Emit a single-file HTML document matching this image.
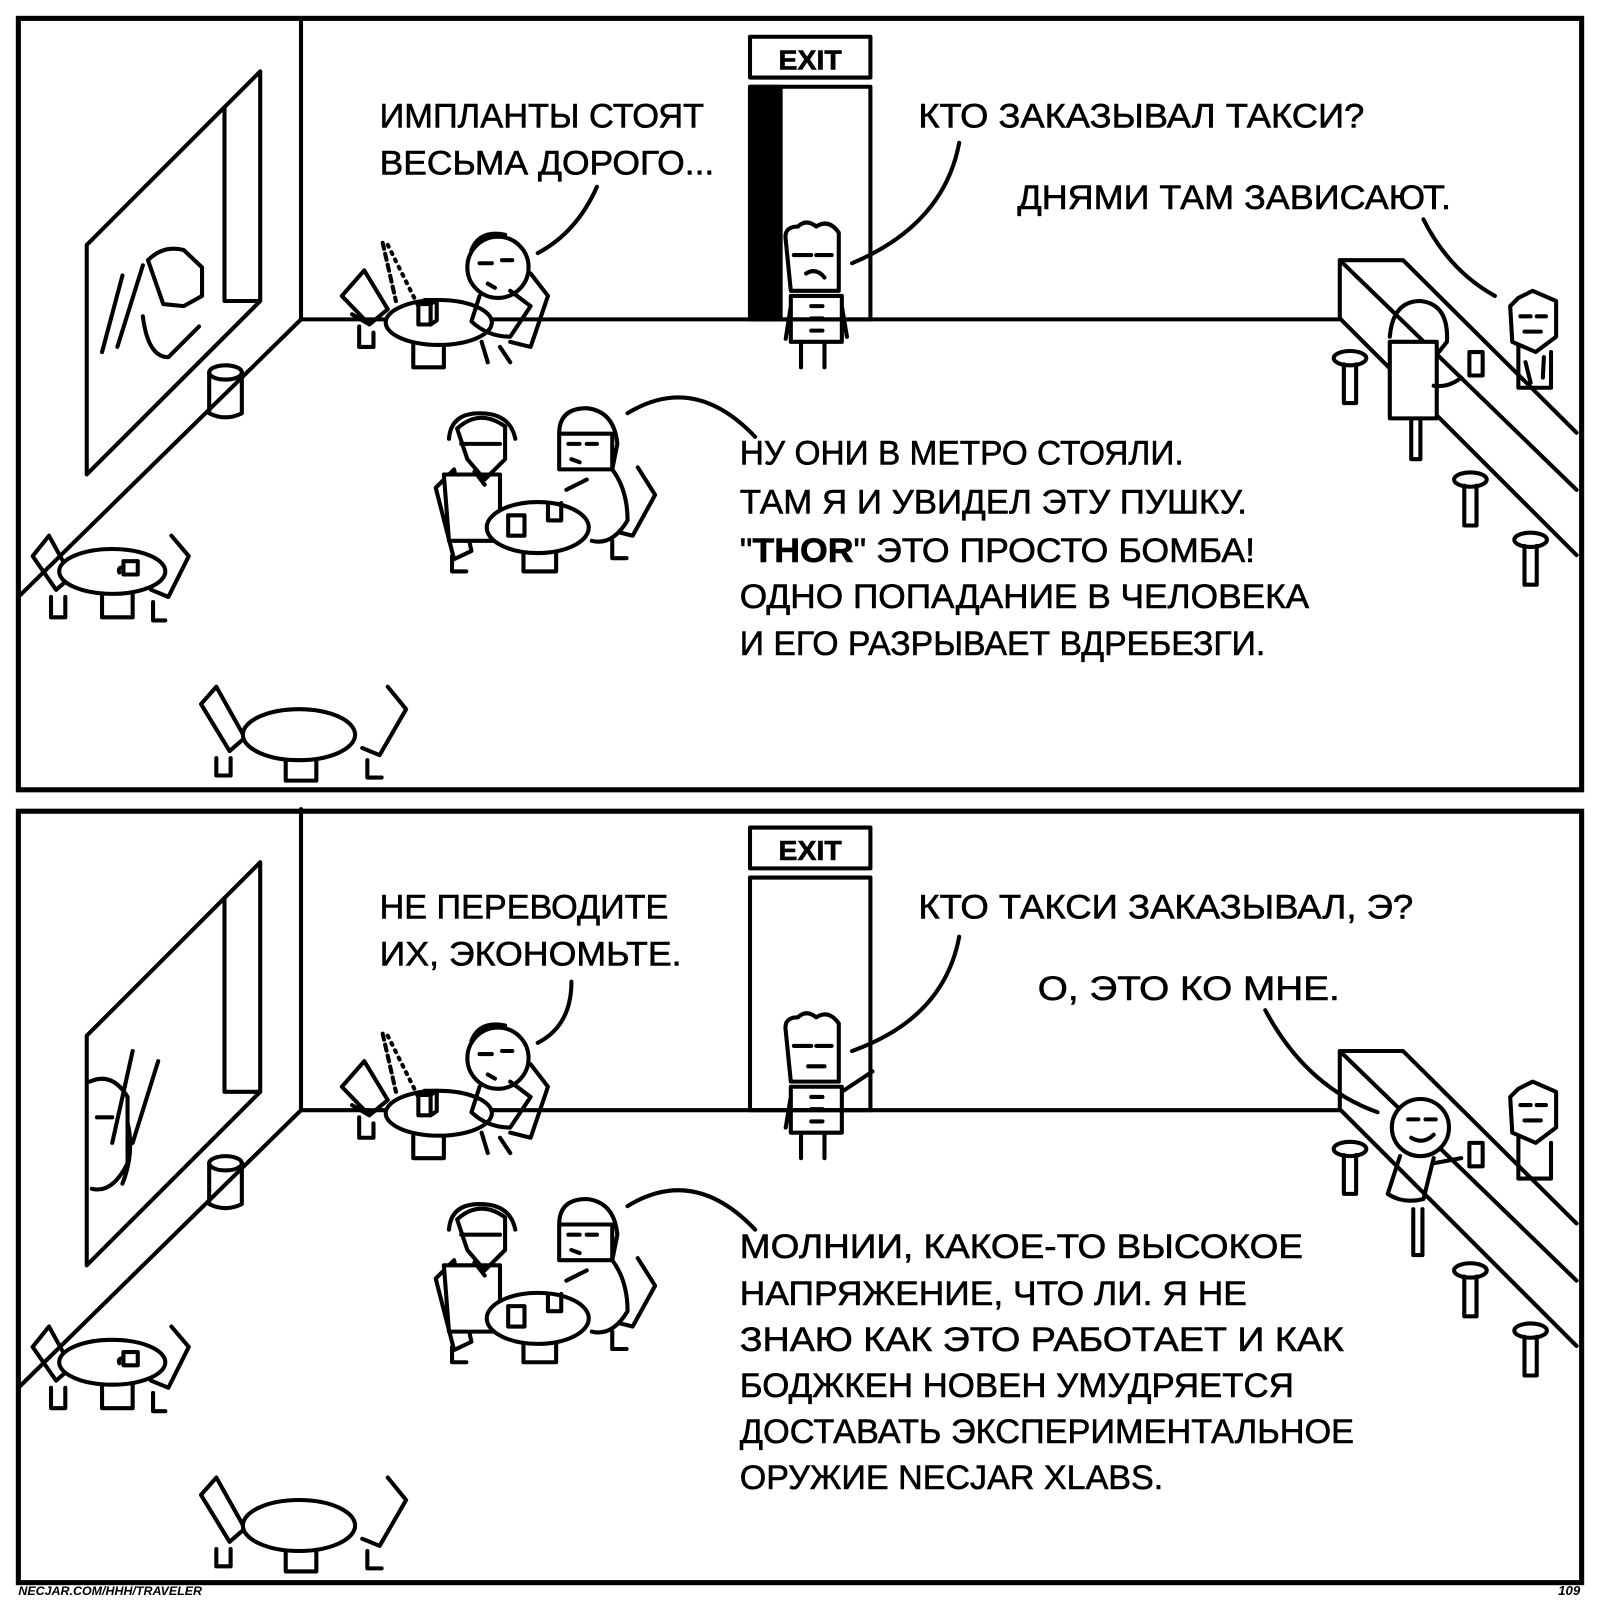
<!DOCTYPE html>
<html><head><meta charset="utf-8"><style>
html,body{margin:0;padding:0;background:#fff;}
svg{display:block;}
text{font-family:"Liberation Sans","DejaVu Sans",sans-serif;fill:#000;}
.t text{stroke:#000;stroke-width:0.6;}
</style></head><body>
<svg width="1600" height="1600" viewBox="0 0 1568 1568" xmlns="http://www.w3.org/2000/svg">
<defs>
<g id="scene" fill="none" stroke="#000" stroke-width="4" stroke-linejoin="round" stroke-linecap="round">
  <path d="M295 18 V313 H1313 M295 313 L18 585"/>
  <path d="M85 240 L255 70 V295 L85 465 Z M220 105 V295 H255"/>
  <rect x="735" y="36" width="118" height="40"/>
  <rect x="735" y="85" width="118" height="228"/>
  <path d="M205 365 V405 Q221 413 237 405 V365"/>
  <ellipse cx="221" cy="365" rx="16" ry="7"/>
  <path d="M1313 255 H1375 L1545 424 M1313 255 V312 L1545 544 M1313 255 L1545 480"/>
  <ellipse cx="1323" cy="351" rx="16" ry="7"/><path d="M1317 357 V395 H1329 V357"/>
  <ellipse cx="1441" cy="470" rx="16" ry="7"/><path d="M1435 476 V515 H1447 V476"/>
  <ellipse cx="1500" cy="529" rx="16" ry="7"/><path d="M1494 535 V573 H1506 V535"/>
  <!-- table A -->
  <path d="M335 290 L357 265 L380 303 L362 318 Z M345 308 L362 318 L380 303 M352 320 V340 H366 V326"/>
  <path d="M520 268 L537 290 L520 340 L500 335"/>
  <path d="M405 335 V360 H435 V335"/>
  <ellipse cx="430" cy="316" rx="52" ry="22" fill="#fff"/>
  <path d="M410 298 V318 H422 V298 Z M410 298 L416 294 H428 V314 L422 318 M422 298 L428 294"/>
  <path d="M375 238 L388 295" stroke-dasharray="6 5"/>
  <path d="M380 240 L410 300" stroke-dasharray="2 6"/>
  <!-- table C -->
  <path d="M32 545 L48 525 L70 565 L55 578 Z M55 578 L70 565 M50 585 V605 H64 V585"/>
  <path d="M168 525 L185 545 L165 585 L148 578 M150 590 V608 H162"/>
  <path d="M100 575 V605 H130 V575"/>
  <ellipse cx="110" cy="560" rx="52" ry="22" fill="#fff"/>
  <path d="M121 550 V563 H135 V550 Z M121 556 Q115 556 117 561"/>
  <!-- table D -->
  <path d="M197 690 L212 673 L240 723 L225 736 Z M212 743 V760 H226 V743"/>
  <path d="M380 673 L398 695 L372 740 L355 733 M360 745 V762 H374"/>
  <path d="M280 735 V765 H310 V735"/>
  <ellipse cx="293" cy="720" rx="55" ry="25" fill="#fff"/>
  <!-- table B -->
  <path d="M427 478 L445 460 L462 540 L445 548 Z M443 545 V560 H457"/>
  <path d="M625 458 L642 485 L620 525 L600 520 M600 530 V547 H614"/>
  <path d="M513 530 V560 H545 V530"/>
</g>
</defs>

<g fill="none" stroke="#000" stroke-width="5"><rect x="18" y="18" width="1532" height="756"/><rect x="18" y="795" width="1532" height="756"/></g>

<use href="#scene"/>
<use href="#scene" transform="translate(0,775)"/>

<g fill="none" stroke="#000" stroke-width="4" stroke-linejoin="round" stroke-linecap="round">
<rect x="735" y="85" width="30" height="228" fill="#000"/>
<path d="M145 255 Q160 240 180 245 L198 262 V290 L180 300 L160 298 Z M140 310 Q145 350 165 350 L195 320 M120 270 L100 345 M140 260 L115 340"/>
<circle cx="488" cy="262" r="30" fill="#fff"/>
<path d="M462 245 Q470 225 495 230 M470 258 H482 M492 255 H502 M478 278 L485 282 M470 290 L462 315 Q478 330 500 330 L520 300 L500 285 M472 335 L478 355 M490 340 L500 355"/>
<path d="M770 235 Q768 222 782 222 Q790 214 800 222 Q812 214 822 228 L822 285 H775 Z" fill="#fff"/>
<path d="M778 250 H795 M800 250 H815 M790 268 Q800 262 808 272 M775 290 H825 V335 H775 Z M795 300 H806 M795 312 H806 M795 324 H806 M785 335 V360 M808 335 V360 M775 300 L770 332 M825 300 L830 330"/>
<path d="M435 465 H490 V530 H440 Z" fill="#fff"/>
<path d="M448 420 Q470 400 495 418 L495 450 L475 470 L458 450 Z M440 430 Q442 405 470 405 Q500 405 505 430 M452 435 H490 M465 462 L475 475"/>
<path d="M548 425 Q548 400 575 400 Q602 403 605 435 L600 460 Q615 480 615 510 Q600 535 580 530 M548 425 H600 V460 H548 Z" fill="#fff"/>
<path d="M557 435 H568 M575 435 H585 M560 450 L568 453 M555 480 L575 470"/>
<ellipse cx="527" cy="517" rx="50" ry="25" fill="#fff"/>
<path d="M498 505 V525 H514 V505 Z M537 493 V510 H550 V493"/>
<path d="M1362 330 Q1365 295 1392 295 Q1420 298 1418 335 L1410 345"/>
<rect x="1362" y="335" width="46" height="75" fill="#fff"/>
<path d="M1383 410 V450 H1392 V410 M1405 378 Q1420 380 1432 370"/>
<path d="M1440 345 V368 H1453 V345 Z"/>
<path d="M1488 292 L1502 285 L1525 295 V330 L1505 345 L1482 335 L1480 300 Z M1490 310 H1500 M1506 310 H1515 M1494 325 H1510 M1488 340 V380 H1520 V345 M1495 355 L1500 375 M1513 350 L1512 370"/>

<path d="M88 1060 Q110 1050 125 1075 L125 1140 Q110 1170 90 1165 M95 1095 H110 M125 1100 Q132 1130 120 1160 M130 1030 L110 1120 M155 1040 L130 1120"/>
<circle cx="488" cy="1037" r="30" fill="#fff"/>
<path d="M462 1020 Q470 1000 495 1005 M470 1033 H482 M492 1030 H502 M478 1053 L485 1057 M470 1065 L462 1090 Q478 1105 500 1105 L520 1075 L500 1060 M472 1110 L478 1130 M490 1115 L500 1130"/>
<path d="M770 1010 Q768 997 782 997 Q790 989 800 997 Q812 989 822 1003 L822 1060 H775 Z" fill="#fff"/>
<path d="M778 1025 H795 M800 1025 H815 M792 1045 H808 M775 1065 H825 V1110 H775 Z M795 1075 H806 M795 1087 H806 M795 1099 H806 M785 1110 V1135 M808 1110 V1135 M775 1075 L770 1105 M825 1070 Q840 1060 855 1050"/>
<path d="M435 1240 H490 V1305 H440 Z" fill="#fff"/>
<path d="M448 1195 Q470 1175 495 1193 L495 1225 L475 1245 L458 1225 Z M440 1205 Q442 1180 470 1180 Q500 1180 505 1205 M452 1210 H490 M465 1237 L475 1250"/>
<path d="M548 1200 Q548 1175 575 1175 Q602 1178 605 1210 L600 1235 Q615 1255 615 1285 Q600 1310 580 1305 M548 1200 H600 V1235 H548 Z" fill="#fff"/>
<path d="M557 1210 H568 M575 1210 H585 M560 1225 L568 1228 M555 1255 L575 1245"/>
<ellipse cx="527" cy="1292" rx="50" ry="25" fill="#fff"/>
<path d="M498 1280 V1300 H514 V1280 Z M537 1268 V1285 H550 V1268"/>
<circle cx="1392" cy="1105" r="28" fill="#fff"/>
<path d="M1380 1097 H1390 M1397 1097 H1407 M1383 1115 Q1395 1122 1405 1112 M1372 1133 L1360 1170 Q1375 1180 1395 1175 L1405 1135 M1385 1185 V1230 H1394 V1185 M1405 1140 L1432 1135"/>
<path d="M1440 1120 V1143 H1453 V1120 Z"/>
<path d="M1488 1067 L1502 1060 L1525 1070 V1105 L1505 1120 L1482 1110 L1480 1075 Z M1490 1083 H1500 M1506 1083 H1515 M1494 1098 H1510 M1488 1115 V1155 H1520 V1120"/>

<path d="M585 183 Q565 228 527 248 M940 140 Q925 220 835 258 M1395 215 Q1420 265 1465 290 M615 405 Q680 365 740 428"/>
<path d="M560 962 Q560 1005 527 1022 M940 918 Q925 998 835 1030 M1240 990 Q1280 1065 1350 1090 M615 1182 Q680 1142 740 1205"/>
</g>

<g class="t" font-size="34">
<text x="763" y="68" font-size="27" font-weight="bold" textLength="62" lengthAdjust="spacingAndGlyphs">EXIT</text>
<text x="763" y="843" font-size="27" font-weight="bold" textLength="62" lengthAdjust="spacingAndGlyphs">EXIT</text>

<text x="372" y="125" textLength="318" lengthAdjust="spacingAndGlyphs">ИМПЛАНТЫ СТОЯТ</text>
<text x="372" y="171" textLength="328" lengthAdjust="spacingAndGlyphs">ВЕСЬМА ДОРОГО...</text>
<text x="900" y="125" textLength="437" lengthAdjust="spacingAndGlyphs">КТО ЗАКАЗЫВАЛ ТАКСИ?</text>
<text x="997" y="205" textLength="425" lengthAdjust="spacingAndGlyphs">ДНЯМИ ТАМ ЗАВИСАЮТ.</text>
<text x="725" y="455" textLength="435" lengthAdjust="spacingAndGlyphs">НУ ОНИ В МЕТРО СТОЯЛИ.</text>
<text x="725" y="503" textLength="497" lengthAdjust="spacingAndGlyphs">ТАМ Я И УВИДЕЛ ЭТУ ПУШКУ.</text>
<text x="725" y="551" textLength="505" lengthAdjust="spacingAndGlyphs">"<tspan font-weight="bold">THOR</tspan>" ЭТО ПРОСТО БОМБА!</text>
<text x="725" y="596" textLength="558" lengthAdjust="spacingAndGlyphs">ОДНО ПОПАДАНИЕ В ЧЕЛОВЕКА</text>
<text x="725" y="642" textLength="515" lengthAdjust="spacingAndGlyphs">И ЕГО РАЗРЫВАЕТ ВДРЕБЕЗГИ.</text>

<text x="372" y="900" textLength="283" lengthAdjust="spacingAndGlyphs">НЕ ПЕРЕВОДИТЕ</text>
<text x="372" y="946" textLength="296" lengthAdjust="spacingAndGlyphs">ИХ, ЭКОНОМЬТЕ.</text>
<text x="900" y="900" textLength="485" lengthAdjust="spacingAndGlyphs">КТО ТАКСИ ЗАКАЗЫВАЛ, Э?</text>
<text x="1017" y="980" textLength="296" lengthAdjust="spacingAndGlyphs">О, ЭТО КО МНЕ.</text>
<text x="725" y="1233" textLength="552" lengthAdjust="spacingAndGlyphs">МОЛНИИ, КАКОЕ-ТО ВЫСОКОЕ</text>
<text x="725" y="1279" textLength="497" lengthAdjust="spacingAndGlyphs">НАПРЯЖЕНИЕ, ЧТО ЛИ. Я НЕ</text>
<text x="725" y="1324" textLength="592" lengthAdjust="spacingAndGlyphs">ЗНАЮ КАК ЭТО РАБОТАЕТ И КАК</text>
<text x="725" y="1369" textLength="543" lengthAdjust="spacingAndGlyphs">БОДЖКЕН НОВЕН УМУДРЯЕТСЯ</text>
<text x="725" y="1414" textLength="602" lengthAdjust="spacingAndGlyphs">ДОСТАВАТЬ ЭКСПЕРИМЕНТАЛЬНОЕ</text>
<text x="725" y="1459" textLength="415" lengthAdjust="spacingAndGlyphs">ОРУЖИЕ NECJAR XLABS.</text>
</g>
<text x="18" y="1563" font-size="12" font-weight="bold" font-style="italic" textLength="180" lengthAdjust="spacingAndGlyphs">NECJAR.COM/HHH/TRAVELER</text>
<text x="1527" y="1563" font-size="13" font-weight="bold" font-style="italic">109</text>
</svg>
</body></html>
